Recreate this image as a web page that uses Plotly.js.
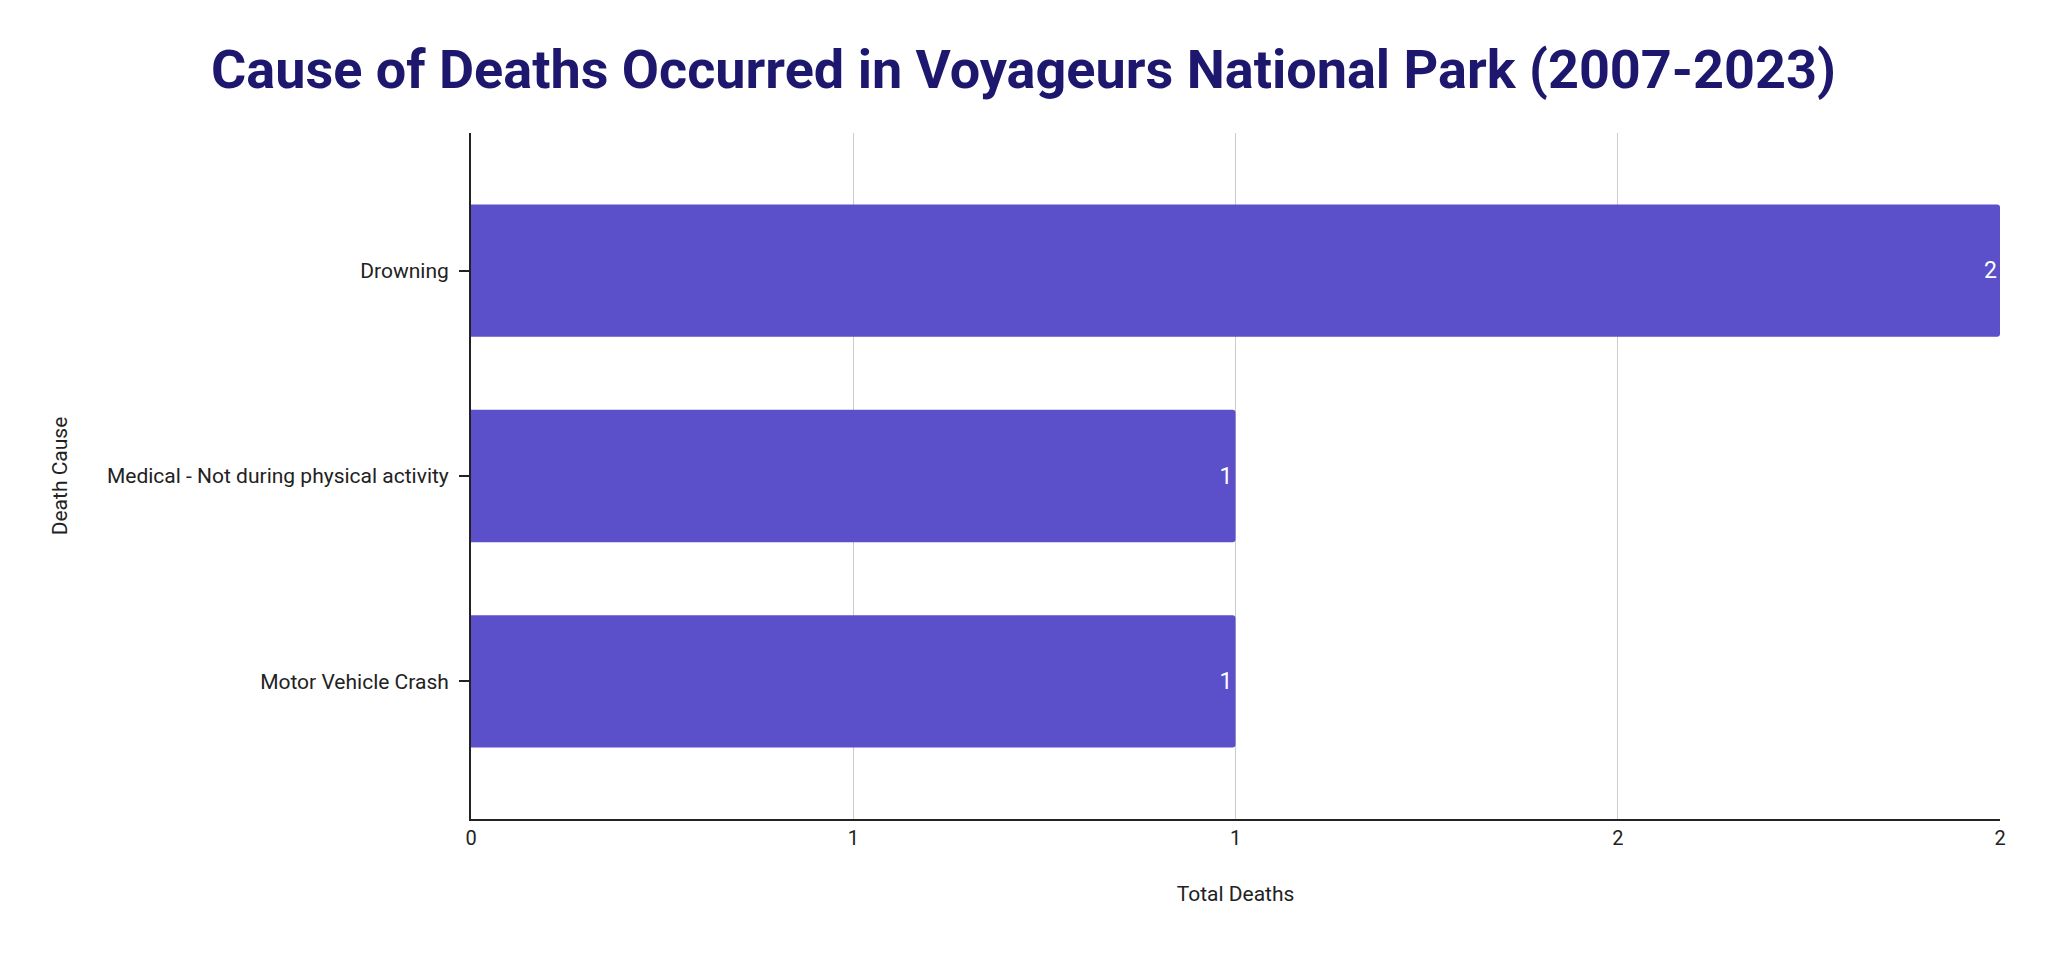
<!DOCTYPE html>
<html>
<head>
<meta charset="utf-8">
<script src="https://cdn.plot.ly/plotly-3.0.1.min.js"></script>
<style>html,body{margin:0;padding:0;background:#fff;}#chart{width:2047px;height:953px;}</style>
</head>
<body>
<div id="chart"></div>
<script>
const causes = ["Drowning", "Medical - Not during physical activity", "Motor Vehicle Crash"];
const totalDeaths = [2, 1, 1];
const xTickVals = [0, 0.5, 1, 1.5, 2];
const xTickText = ["0", "1", "1", "2", "2"];

const trace = {
  type: "bar",
  orientation: "h",
  y: causes,
  x: totalDeaths,
  text: totalDeaths.map(String),
  textposition: "inside",
  insidetextanchor: "end",
  constraintext: "none",
  textfont: {family: "Roboto", size: 23, color: "#ffffff"},
  marker: {color: "#5b4fca", cornerradius: 3},
  hoverinfo: "x+y"
};

const layout = {
  width: 2047, height: 953,
  paper_bgcolor: "#ffffff", plot_bgcolor: "#ffffff",
  margin: {l: 471, r: 47, t: 133, b: 134},
  bargap: 0.356,
  showlegend: false,
  font: {family: "Roboto", color: "#222222"},
  title: {
    text: "<b>Cause of Deaths Occurred in Voyageurs National Park (2007-2023)</b>",
    font: {family: "Roboto", size: 54, color: "#1e176e"},
    x: 0.5, xanchor: "center", y: 0.928, yanchor: "middle"
  },
  xaxis: {
    range: [0, 2],
    tickvals: xTickVals, ticktext: xTickText,
    showgrid: true, gridcolor: "#cccccc", gridwidth: 1.3,
    zeroline: false,
    showline: true, linecolor: "#222222", linewidth: 2,
    ticks: "", tickfont: {family: "Roboto", size: 20, color: "#222222"},
    title: {text: "Total Deaths", font: {family: "Roboto", size: 21, color: "#222222"}, standoff: 37}
  },
  yaxis: {
    type: "category",
    range: [2.67, -0.67],
    showgrid: false, zeroline: false,
    showline: true, linecolor: "#222222", linewidth: 2,
    ticks: "outside", ticklen: 10, tickwidth: 2, tickcolor: "#222222",
    ticklabelstandoff: 6,
    tickfont: {family: "Roboto", size: 21, color: "#222222"},
    title: {text: "Death Cause", font: {family: "Roboto", size: 21, color: "#222222"}, standoff: 34}
  }
};

Plotly.newPlot("chart", [trace], layout, {displayModeBar: false, staticPlot: true});
</script>
</body>
</html>
